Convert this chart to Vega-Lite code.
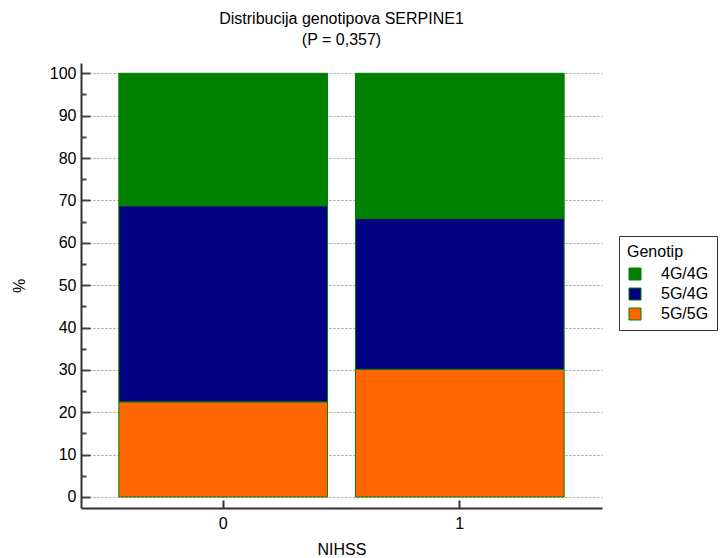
{
  "$schema": "https://vega.github.io/schema/vega-lite/v6.json",
  "autosize": {"type": "none"},
  "width": 521,
  "height": 445,
  "padding": {"left": 81, "top": 63, "right": 122, "bottom": 50},
  "background": "white",
  "title": {
    "text": ["Distribucija genotipova SERPINE1", "(P = 0,357)"],
    "font": "Liberation Sans",
    "fontSize": 16,
    "fontWeight": "normal",
    "color": "#000",
    "lineHeight": 21,
    "offset": 15,
    "anchor": "middle"
  },
  "data": {
    "values": [
      {"nihss": "0", "genotip": "4G/4G", "pct": 31.3},
      {"nihss": "0", "genotip": "5G/4G", "pct": 46.3},
      {"nihss": "0", "genotip": "5G/5G", "pct": 22.4},
      {"nihss": "1", "genotip": "4G/4G", "pct": 34.3},
      {"nihss": "1", "genotip": "5G/4G", "pct": 35.6},
      {"nihss": "1", "genotip": "5G/5G", "pct": 30.1}
    ]
  },
  "mark": {"type": "bar", "stroke": "#008000", "strokeWidth": 1},
  "encoding": {
    "x": {
      "field": "nihss",
      "type": "nominal",
      "title": "NIHSS",
      "scale": {"paddingInner": 0.118, "paddingOuter": 0.16},
      "axis": {
        "labelAngle": 0,
        "tickSize": -8,
        "tickWidth": 2,
        "tickColor": "#333",
        "domainColor": "#333",
        "domainWidth": 2,
        "labelPadding": 15,
        "labelFont": "Liberation Sans",
        "labelFontSize": 16,
        "labelColor": "#000",
        "titleFont": "Liberation Sans",
        "titleFontSize": 16,
        "titleFontWeight": "normal",
        "titleColor": "#000",
        "titlePadding": 10,
        "grid": false
      }
    },
    "y": {
      "field": "pct",
      "type": "quantitative",
      "stack": "zero",
      "title": "%",
      "scale": {"domain": [-2.6, 102.43], "nice": false, "zero": false},
      "axis": {
        "values": [0, 5, 10, 15, 20, 25, 30, 35, 40, 45, 50, 55, 60, 65, 70, 75, 80, 85, 90, 95, 100],
        "labelExpr": "datum.value % 10 === 0 ? datum.label : ''",
        "tickSize": {"condition": {"test": "datum.value % 10 === 0", "value": -9}, "value": -5},
        "tickWidth": 2,
        "tickColor": "#444",
        "domainColor": "#333",
        "domainWidth": 2,
        "labelPadding": 14,
        "labelFont": "Liberation Sans",
        "labelFontSize": 16,
        "labelColor": "#000",
        "titleFont": "Liberation Sans",
        "titleFontSize": 16,
        "titleFontWeight": "normal",
        "titleColor": "#000",
        "titlePadding": 22,
        "grid": true,
        "gridColor": "#999",
        "gridWidth": 1,
        "gridDash": [2, 2],
        "gridOpacity": {"condition": {"test": "datum.value % 10 === 0", "value": 1}, "value": 0}
      }
    },
    "color": {
      "field": "genotip",
      "type": "nominal",
      "title": "Genotip",
      "scale": {"domain": ["4G/4G", "5G/4G", "5G/5G"], "range": ["#008000", "#000080", "#FF6600"]},
      "legend": {
        "orient": "none",
        "legendX": 538,
        "legendY": 173,
        "strokeColor": "#333",
        "fillColor": "white",
        "padding": 8,
        "symbolType": "square",
        "symbolSize": 144,
        "symbolStrokeColor": "#008000",
        "symbolStrokeWidth": 1,
        "symbolOffset": 0,
        "labelFont": "Liberation Sans",
        "labelFontSize": 16,
        "labelColor": "#000",
        "labelOffset": 18,
        "titleFont": "Liberation Sans",
        "titleFontSize": 16,
        "titleFontWeight": "normal",
        "titleColor": "#000",
        "titlePadding": 6,
        "rowPadding": 4
      }
    },
    "order": {"field": "genotip", "sort": "descending"}
  },
  "config": {"view": {"stroke": null}}
}
